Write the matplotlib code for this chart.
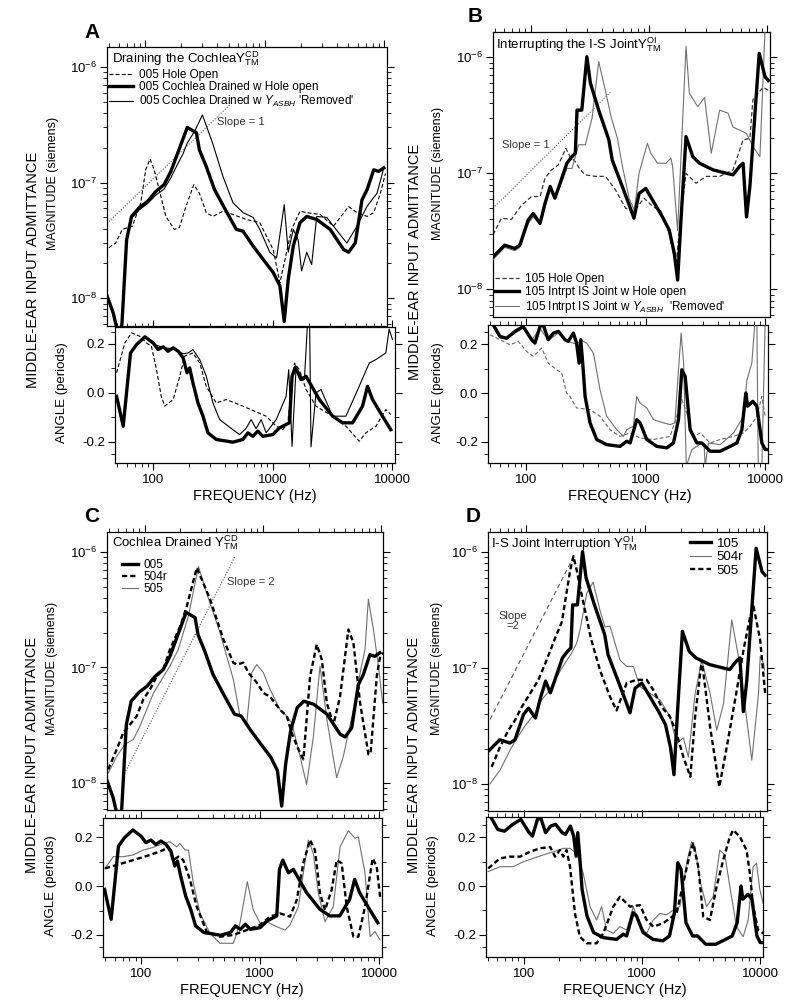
import matplotlib
matplotlib.use('Agg')
import matplotlib.pyplot as plt
from matplotlib.ticker import FixedLocator, NullFormatter, FuncFormatter

plt.rcParams['font.family'] = ['Liberation Sans', 'DejaVu Sans']
plt.rcParams['mathtext.fontset'] = 'custom'
plt.rcParams['mathtext.rm'] = 'Liberation Sans'
plt.rcParams['mathtext.it'] = 'Liberation Sans:italic'
plt.rcParams['mathtext.bf'] = 'Liberation Sans:bold'
plt.rcParams['axes.unicode_minus'] = False
plt.rcParams['axes.linewidth'] = 0.9

# ---- data: frequency (Hz), magnitude (siemens), angle (periods) ----
# ear 005, cochlea drained w hole open (panels A and C)
f005 = [48, 54, 58, 61, 64, 70, 77, 89, 105, 123, 144, 164, 187, 206, 225, 268, 284, 324, 380, 476,
        578, 658, 798, 968, 1175, 1337, 1453, 1570, 1730, 1968, 2240, 2717, 3515, 4550, 5015, 5700,
        6490, 7160, 8130, 8960, 9870]
y005 = [1.05e-8, 7.5e-9, 5.5e-9, 4.5e-9, 6e-9, 3.2e-8, 5.1e-8, 6.05e-8, 6.9e-8, 8.4e-8, 9.6e-8, 1.25e-7,
        1.8e-7, 2.35e-7, 3.0e-7, 2.7e-7, 1.92e-7, 1.38e-7, 8.7e-8, 5.66e-8, 3.94e-8, 3.8e-8, 2.83e-8,
        2.17e-8, 1.67e-8, 1.28e-8, 6.3e-9, 1.46e-8, 2.83e-8, 4.5e-8, 5.1e-8, 4.8e-8, 3.94e-8, 2.64e-8,
        2.5e-8, 3.0e-8, 7.1e-8, 8.7e-8, 1.29e-7, 1.25e-7, 1.34e-7]
fa005 = [49.5, 56.2, 64.7, 72.6, 85.3, 100, 110, 121, 133, 147, 162, 178, 192, 202, 215, 237, 261, 287,
         337, 464, 562, 619, 681, 750, 825, 1000, 1136, 1376, 1449, 1545, 1722, 1896, 2447, 3162, 3831,
         4642, 5623, 6190, 6813, 8254, 9678]
a005 = [-0.014, -0.136, 0.163, 0.197, 0.229, 0.204, 0.177, 0.188, 0.17, 0.184, 0.17, 0.143, 0.082, 0.102,
        0.041, -0.041, -0.095, -0.163, -0.19, -0.201, -0.19, -0.163, -0.177, -0.156, -0.177, -0.17,
        -0.143, -0.122, 0.068, 0.106, 0.054, 0.068, -0.027, -0.095, -0.122, -0.122, -0.054, 0.027,
        -0.027, -0.095, -0.15]

# ear 005, hole open
fho005 = [49.8, 56.7, 64.4, 78.2, 92, 101, 110, 119, 131, 149, 175, 193, 220, 255, 284, 324, 368, 447,
          542, 702, 908, 1033, 1175, 1337, 1520, 1675, 1968, 2240, 2900, 3750, 5015, 5890, 7160, 8130,
          9250, 10190]
yho005 = [2.74e-8, 3.0e-8, 3.94e-8, 4.2e-8, 6.7e-8, 1.29e-7, 1.6e-7, 1.29e-7, 8.7e-8, 5.1e-8, 3.94e-8,
          4.07e-8, 6.25e-8, 9.6e-8, 8.1e-8, 5.5e-8, 5.1e-8, 5.66e-8, 5.3e-8, 4.8e-8, 4.5e-8, 3.44e-8,
          2.64e-8, 1.36e-8, 2.5e-8, 3.94e-8, 5.66e-8, 5.5e-8, 5.3e-8, 4.2e-8, 6.2e-8, 5.5e-8, 5.1e-8,
          5.5e-8, 8.1e-8, 1.2e-7]
faho005 = [49.5, 58, 66, 77.4, 88, 96.8, 106.6, 117, 125, 147, 167, 183, 215, 245, 278, 337, 408, 562,
           880, 1067, 1212, 1334, 1517, 1668, 1896, 2297, 3162, 4084, 5272, 5995, 7262, 8800, 9678]
aho005 = [0.082, 0.204, 0.245, 0.231, 0.204, 0.19, 0.095, -0.014, -0.054, -0.027, 0.068, 0.15, 0.163,
          0.122, 0.027, -0.041, -0.027, -0.054, -0.095, -0.136, -0.15, -0.122, 0.122, 0.095, 0.014,
          -0.054, -0.095, -0.136, -0.197, -0.163, -0.136, -0.068, -0.088]

# ear 005, cochlea drained w Y_ASBH removed
frm005 = [48, 54, 58, 61, 64, 70, 77, 89, 105, 123, 144, 164, 187, 206, 225, 260, 301, 366, 447, 542,
          658, 798, 908, 1100, 1254, 1453, 1570, 1730, 1900, 2030, 2240, 2465, 2717, 3296, 3750, 4850,
          5890, 7160, 8670, 9870]
yrm005 = [1.05e-8, 7.5e-9, 5.5e-9, 4.5e-9, 6e-9, 3.0e-8, 4.9e-8, 5.8e-8, 6.6e-8, 7.8e-8, 8.8e-8, 1.1e-7,
          1.45e-7, 1.75e-7, 2.2e-7, 2.8e-7, 3.85e-7, 2.2e-7, 1.13e-7, 6.7e-8, 5.5e-8, 5.0e-8, 3.94e-8,
          2.5e-8, 2.23e-8, 6.45e-8, 2.5e-8, 3.94e-8, 3.2e-8, 1.72e-8, 2.5e-8, 1.96e-8, 5.1e-8, 5.0e-8,
          4.2e-8, 3.0e-8, 4.2e-8, 6.25e-8, 8.1e-8, 1.34e-7]
farm005 = [49.5, 56.2, 64.7, 72.6, 85.3, 100, 121, 147, 178, 196, 215, 245, 278, 316, 360, 464, 527, 595,
           659, 724, 800, 880, 1067, 1292, 1359, 1449, 1562, 1837, 1958, 2030, 2085, 2297, 2527, 3162,
           4084, 5272, 6400, 7262, 8800, 9380, 10000]
arm005 = [-0.014, -0.13, 0.16, 0.195, 0.225, 0.2, 0.185, 0.18, 0.16, 0.163, 0.177, 0.136, 0.068, -0.041,
          -0.109, -0.15, -0.17, -0.146, -0.109, -0.146, -0.109, -0.163, -0.109, -0.014, 0.095, -0.218,
          0.095, 0.054, 0.3, 0.3, -0.22, 0.0, 0.014, -0.095, -0.095, 0.027, 0.122, 0.136, 0.163, 0.26,
          0.218]

# ear 105, I-S joint interrupted w hole open (panels B and D)
f105 = [48, 60.2, 73.3, 80.9, 95.2, 105, 120, 132, 146, 160, 177, 202, 223, 238, 246, 270, 298, 319, 375,
        457, 488, 593, 654, 745, 822, 937, 1067, 1297, 1479, 1632, 1742, 1860, 2050, 2339, 2665, 3460,
        4490, 5115, 5830, 6220, 6650, 7100, 8510, 9530, 10150]
y105 = [1.9e-8, 2.4e-8, 2.25e-8, 2.4e-8, 3.96e-8, 4.5e-8, 3.7e-8, 5.5e-8, 7.7e-8, 6.1e-8, 8.2e-8, 1.22e-7,
        1.39e-7, 1.49e-7, 3.5e-7, 3.5e-7, 1.01e-6, 6e-7, 3.5e-7, 1.94e-7, 1.3e-7, 7.7e-8, 5.9e-8, 4.1e-8,
        6.7e-8, 7.4e-8, 5.9e-8, 4.2e-8, 3.24e-8, 2.04e-8, 1.2e-8, 4e-8, 2.07e-7, 1.39e-7, 1.22e-7,
        1.07e-7, 1.0e-7, 9.7e-8, 1.15e-7, 1.22e-7, 4.2e-8, 7.7e-8, 1.08e-6, 6.8e-7, 6.3e-7]
fa105 = [53.1, 60.4, 68.7, 80.7, 94.6, 111, 118.5, 130.6, 139, 153, 169, 186, 211, 225, 248, 264, 277,
         286, 297, 311, 342, 389, 471, 609, 693, 740, 840, 896, 1019, 1236, 1497, 1703, 1875, 2000, 2133,
         2347, 2670, 2940, 3450, 4180, 5070, 5770, 6350, 6850, 7090, 7840, 8470, 9330, 9950, 10270]
a105 = [0.279, 0.231, 0.224, 0.252, 0.272, 0.218, 0.204, 0.272, 0.279, 0.218, 0.245, 0.252, 0.218, 0.211,
        0.245, 0.204, 0.122, 0.218, 0.122, -0.014, -0.122, -0.19, -0.211, -0.218, -0.197, -0.204,
        -0.109, -0.122, -0.19, -0.218, -0.224, -0.204, -0.109, 0.095, 0.068, -0.15, -0.204, -0.204,
        -0.238, -0.238, -0.218, -0.204, -0.15, 0.0, -0.054, -0.034, -0.054, -0.204, -0.231, -0.231]

# ear 105, hole open
fho105 = [48, 56.5, 68.7, 83.5, 101.6, 120, 132, 150, 171, 198, 215, 238, 262, 289, 352, 428, 520, 632,
          745, 906, 1067, 1260, 1479, 1690, 1800, 2050, 2495, 3030, 3945, 5115, 6220, 7100, 7530, 9160,
          10150]
yho105 = [2.94e-8, 4.1e-8, 4.0e-8, 5.3e-8, 6.3e-8, 6.3e-8, 9.1e-8, 1.07e-7, 1.18e-7, 1.64e-7, 1.39e-7,
          1.26e-7, 1.07e-7, 9.7e-8, 9.4e-8, 9.4e-8, 7.2e-8, 5.0e-8, 4.7e-8, 6.1e-8, 5.2e-8, 4.7e-8,
          3.04e-8, 1.57e-8, 3.25e-8, 1.0e-7, 8.2e-8, 9.4e-8, 9.4e-8, 1.07e-7, 1.94e-7, 2.0e-7, 4.3e-7,
          5.5e-7, 5.2e-7]
faho105 = [49.9, 60.4, 73.3, 86, 101, 115, 135, 153, 180, 198, 218, 232, 264, 342, 414, 502, 609, 740,
           896, 1160, 1596, 1815, 2000, 2203, 2500, 2845, 3450, 4180, 5410, 6560, 7450, 8470, 9330, 9950]
aho105 = [0.238, 0.218, 0.197, 0.211, 0.17, 0.15, 0.184, 0.122, 0.095, 0.082, 0.0, -0.014, -0.061,
          -0.068, -0.095, -0.15, -0.177, -0.163, -0.184, -0.19, -0.177, -0.095, -0.027, -0.082, -0.177,
          -0.163, -0.204, -0.19, -0.177, -0.163, -0.136, -0.095, -0.014, -0.095]

# ear 105, I-S joint interrupted w Y_ASBH removed
frm105 = [48, 60.2, 73.3, 80.9, 95.2, 105, 120, 132, 146, 160, 177, 202, 223, 254, 289, 330, 375, 430,
          480, 540, 600, 680, 750, 822, 968, 1033, 1177, 1387, 1528, 1580, 1742, 2050, 2188, 2577, 2940,
          3350, 3945, 4640, 5115, 5830, 6650, 7530, 8630, 9530, 10150]
yrm105 = [1.8e-8, 2.3e-8, 2.15e-8, 2.3e-8, 3.7e-8, 4.2e-8, 3.6e-8, 5.2e-8, 7.2e-8, 6.0e-8, 7.8e-8, 1.1e-7,
          1.1e-7, 1.76e-7, 1.76e-7, 3.0e-7, 9.2e-7, 5.0e-7, 3.0e-7, 2.0e-7, 1.1e-7, 6.0e-8, 4.8e-8,
          1.0e-7, 1.81e-7, 1.49e-7, 1.22e-7, 1.22e-7, 1.35e-7, 1.14e-7, 3.2e-8, 1.24e-6, 4.9e-7, 3.75e-7,
          4.5e-7, 1.49e-7, 3.5e-7, 3.3e-7, 2.5e-7, 2.35e-7, 2.2e-7, 1.7e-7, 1.39e-7, 1.7e-6, 1.7e-6]
farm105 = [53.1, 60.4, 68.7, 80.7, 94.6, 111, 130.6, 153, 186, 225, 264, 290, 320, 365, 414, 471, 571,
           650, 693, 787, 840, 896, 1019, 1160, 1405, 1596, 1750, 1875, 1975, 2070, 2180, 2275, 2430,
           2670, 2940, 3080, 3130, 3340, 4180, 5410, 6560, 7000, 7690, 8200, 8470, 8700, 9330, 9950]
arm105 = [0.27, 0.225, 0.22, 0.245, 0.265, 0.215, 0.265, 0.215, 0.245, 0.21, 0.2, 0.215, 0.204, 0.163,
          0.014, -0.095, -0.15, -0.177, -0.15, -0.136, -0.014, -0.041, -0.061, -0.109, -0.122, -0.129,
          -0.122, 0.095, 0.245, 0.122, -0.3, -0.272, -0.231, -0.218, -0.204, -0.22, -0.3, -0.204,
          -0.211, -0.163, -0.095, 0.054, 0.122, 0.3, 0.3, -0.3, -0.3, 0.3]

# panel C, cochlea drained: ears 504r and 505
f504c = [49.2, 58, 65.9, 75.1, 85.7, 97.5, 111, 127, 144, 164, 203, 228, 277, 359, 466, 565, 604, 688,
         758, 893, 1017, 1158, 1407, 1603, 1770, 2015, 2220, 2530, 2880, 3180, 3510, 3990, 4540, 5340,
         5890, 6720, 7900, 8240, 9300, 9930, 10600]
y504c = [1.31e-8, 1.95e-8, 2.72e-8, 3.2e-8, 3.79e-8, 5.3e-8, 6.45e-8, 8.4e-8, 9.6e-8, 1.43e-7, 2.35e-7,
         3.4e-7, 7.3e-7, 3.9e-7, 1.75e-7, 1.1e-7, 1.06e-7, 1.1e-7, 9e-8, 7.4e-8, 6.0e-8, 5.6e-8, 4.3e-8,
         3.8e-8, 2.7e-8, 1.95e-8, 1.6e-8, 8.4e-8, 1.58e-7, 1.17e-7, 4.9e-8, 3.2e-8, 5.6e-8, 2.13e-7,
         1.64e-7, 4.9e-8, 1.77e-8, 1.8e-8, 8.4e-8, 1.25e-7, 1.34e-7]
fa504c = [49.9, 62.4, 86.1, 119, 154, 169, 187, 206, 226, 258, 293, 355, 460, 595, 769, 996, 1208, 1466,
          1777, 2024, 2297, 2613, 2877, 3170, 3493, 3970, 4380, 4820, 5310, 6040, 6650, 7570, 8770, 9480,
          10120]
a504c = [0.072, 0.086, 0.106, 0.127, 0.147, 0.16, 0.106, 0.12, 0.106, 0.024, -0.084, -0.186, -0.207,
         -0.2, -0.18, -0.159, -0.125, -0.112, -0.125, -0.057, 0.093, 0.188, 0.147, -0.03, -0.098, -0.016,
         0.106, 0.093, -0.084, -0.207, -0.207, -0.084, 0.113, 0.079, -0.044]
f505c = [49.2, 58, 68.2, 80.2, 91.4, 104, 119, 140, 164, 193, 213, 235, 286, 336, 436, 565, 644, 735, 810,
         893, 1017, 1158, 1407, 1603, 1770, 2015, 2365, 2700, 3070, 3510, 4250, 4840, 5890, 6720, 7390,
         7890, 8710, 9600, 10450]
y505c = [1.22e-8, 1.7e-8, 2.16e-8, 2.38e-8, 3.1e-8, 4.3e-8, 6.0e-8, 7.9e-8, 1.03e-7, 1.43e-7, 2.0e-7,
         2.78e-7, 7.5e-7, 4.4e-7, 2.0e-7, 7.9e-8, 3.8e-8, 3.3e-8, 9e-8, 1.06e-7, 9.0e-8, 6.45e-8, 4.3e-8,
         3.8e-8, 3.3e-8, 1.95e-8, 9.7e-9, 2.54e-8, 1.03e-7, 3.55e-8, 1.11e-8, 1.7e-8, 4.3e-8, 9.0e-8,
         1.43e-7, 3.9e-7, 2.13e-7, 1.03e-7, 4.9e-8]
fa505c = [49.9, 58.5, 71, 86.1, 104, 127, 154, 175, 199, 212, 234, 250, 275, 313, 379, 460, 595, 676, 779,
          875, 996, 1133, 1374, 1613, 1777, 2090, 2297, 2532, 2787, 3073, 3493, 4100, 4670, 5480, 6240,
          6650, 7570, 8340, 9180, 10120]
a505c = [0.072, 0.12, 0.12, 0.127, 0.147, 0.158, 0.174, 0.181, 0.16, 0.174, 0.147, 0.147, 0.011, -0.112,
         -0.193, -0.234, -0.234, -0.152, 0.018, -0.098, -0.152, -0.146, -0.166, -0.18, -0.159, -0.084,
         0.052, 0.188, 0.133, -0.03, -0.146, -0.084, 0.16, 0.226, 0.195, 0.201, 0.052, -0.207, -0.186,
         -0.22]

# panel D, I-S joint interruption: ears 504r and 505
f504d = [49.9, 60.5, 73.4, 83.5, 101, 119, 135, 159, 181, 212, 241, 266, 284, 323, 365, 417, 459, 506,
         614, 698, 794, 903, 1330, 1613, 1836, 2090, 2300, 2620, 2980, 3500, 3980, 4530, 5320, 6050,
         6890, 7830, 8910, 9200, 9820, 10000]
y504d = [1.0e-8, 1.31e-8, 1.95e-8, 2.46e-8, 3.3e-8, 4.05e-8, 5.3e-8, 6.45e-8, 8.4e-8, 1.1e-7, 1.34e-7,
         1.64e-7, 2.13e-7, 4.4e-7, 5.5e-7, 3.15e-7, 2.26e-7, 2.3e-7, 1.17e-7, 1.03e-7, 1.03e-7, 6.9e-8,
         5.3e-8, 3.8e-8, 2.23e-8, 2.5e-8, 1.7e-8, 6e-8, 1.17e-7, 6e-8, 2.9e-8, 4.9e-8, 2.6e-7, 1.25e-7,
         4.6e-8, 1.6e-8, 6e-8, 1.25e-7, 1.1e-7, 9.6e-8]
fa504d = [50.1, 63, 81.6, 99, 120, 146, 178, 216, 246, 280, 318, 363, 413, 455, 501, 571, 650, 740, 843,
          960, 1092, 1242, 1413, 1610, 1832, 2085, 2376, 2618, 2793, 3078, 3500, 3980, 4535, 5000, 5510,
          6270, 7140, 7870, 8670, 9250, 9880, 10540]
a504d = [0.059, 0.079, 0.079, 0.099, 0.113, 0.127, 0.14, 0.154, 0.154, 0.133, 0.052, -0.084, -0.139,
         -0.084, -0.18, -0.193, -0.166, -0.18, -0.084, -0.166, -0.193, -0.139, -0.112, -0.118, -0.098,
         -0.084, 0.093, 0.181, 0.161, 0.024, -0.084, -0.044, 0.147, 0.127, -0.003, -0.166, -0.207,
         -0.139, 0.079, 0.093, -0.016, -0.071]
f505d = [51.5, 60.5, 71.1, 81, 92, 108, 127, 149, 175, 200, 215, 235, 250, 266, 290, 320, 350, 417, 506,
         575, 698, 847, 1028, 1170, 1374, 1613, 1836, 2090, 2390, 2620, 2980, 3500, 4180, 4830, 5860,
         6670, 7590, 8090, 9200, 10140]
y505d = [1.4e-8, 2.08e-8, 2.9e-8, 3.55e-8, 4.6e-8, 6e-8, 7.9e-8, 1.17e-7, 1.8e-7, 2.5e-7, 4e-7, 7e-7,
         9.2e-7, 7e-7, 4.5e-7, 2.8e-7, 1.8e-7, 9.6e-8, 5.65e-8, 4.3e-8, 7.4e-8, 7.9e-8, 7.9e-8, 6.45e-8,
         4.6e-8, 3.8e-8, 2.7e-8, 1.7e-8, 1.15e-8, 3.8e-8, 1.17e-7, 3.1e-8, 9.4e-9, 2.08e-8, 6.45e-8,
         1.43e-7, 2.78e-7, 3.4e-7, 1.75e-7, 6e-8]
fa505d = [50.1, 63, 76.5, 93, 113, 137, 167, 184, 202, 216, 230, 246, 271, 298, 340, 413, 470, 571, 650,
          789, 960, 1092, 1242, 1507, 1955, 2225, 2534, 2704, 2980, 3283, 3740, 4256, 4840, 5510, 5880,
          6700, 7620, 8130, 8670, 9550, 10540]
a505d = [0.072, 0.113, 0.12, 0.12, 0.14, 0.154, 0.16, 0.12, 0.147, 0.12, 0.147, 0.079, -0.112, -0.207,
         -0.234, -0.234, -0.193, -0.084, -0.044, -0.084, -0.078, -0.139, -0.166, -0.152, -0.112, 0.011,
         0.133, 0.174, 0.079, -0.125, -0.139, -0.003, 0.106, 0.201, 0.229, 0.201, 0.147, 0.052, -0.084,
         -0.18, -0.193]

# reference slope lines (end points)
slopeA_f, slopeA_y = [49.8, 508], [4.6e-8, 4.7e-7]
slopeB_f, slopeB_y = [48, 472], [5.0e-8, 5.0e-7]
slopeC_f, slopeC_y = [65.9, 585], [1.15e-8, 9.2e-7]
slopeD_f, slopeD_y = [50, 255], [3.6e-8, 9.4e-7]

# ---- layout helpers ----
W, H = 800, 1005
fig = plt.figure(figsize=(8, 10.05), dpi=100)
XLIM = (48, 10500)
GREY = '#707070'
THICK, THIN = 2.4, 0.8
DASH = (0, (3.5, 2))
BOLDDASH = (0, (2.2, 1.3))


def box(x0, y0, x1, y1):
    return fig.add_axes([x0 / W, 1 - y1 / H, (x1 - x0) / W, (y1 - y0) / H])


def mag_axes(x0, y0, x1, y1, ylim):
    ax = box(x0, y0, x1, y1)
    ax.set_xscale('log')
    ax.set_yscale('log')
    ax.set_xlim(*XLIM)
    ax.set_ylim(*ylim)
    ax.tick_params(which='both', direction='out', top=True, right=True, bottom=False,
                   labelbottom=False, labelsize=9.5, pad=2)
    ax.tick_params(which='major', length=5, width=0.8)
    ax.tick_params(which='minor', length=3, width=0.6)
    ax.yaxis.set_minor_formatter(NullFormatter())
    ax.xaxis.set_minor_formatter(NullFormatter())
    return ax


def ang_axes(x0, y0, x1, y1, ylim):
    ax = box(x0, y0, x1, y1)
    ax.set_xscale('log')
    ax.set_xlim(*XLIM)
    ax.set_ylim(*ylim)
    ax.set_yticks([-0.2, 0.0, 0.2])
    ax.set_yticklabels(['-0.2', '0.0', '0.2'])
    ax.yaxis.set_minor_locator(FixedLocator([-0.25, -0.1, 0.1, 0.25]))
    ax.xaxis.set_major_formatter(FuncFormatter(lambda v, p: '%d' % v))
    ax.xaxis.set_minor_formatter(NullFormatter())
    ax.tick_params(which='both', direction='out', top=True, right=True)
    ax.tick_params(which='major', length=5, width=0.8)
    ax.tick_params(which='minor', length=3, width=0.6)
    ax.tick_params(axis='y', labelsize=9.5, pad=2)
    ax.tick_params(axis='x', labelsize=9.5, pad=3)
    return ax


def ftext(x, y, s, **kw):
    fig.text(x / W, 1 - y / H, s, **kw)


def side_labels(x_big, y_big, x_mag, y_mag, x_ang, y_ang, x_freq, y_freq):
    ftext(x_big, y_big, 'MIDDLE-EAR INPUT ADMITTANCE', rotation=90, ha='center', va='center', fontsize=10.5)
    ftext(x_mag, y_mag, 'MAGNITUDE (siemens)', rotation=90, ha='center', va='center', fontsize=9)
    ftext(x_ang, y_ang, 'ANGLE (periods)', rotation=90, ha='center', va='center', fontsize=9.5)
    ftext(x_freq, y_freq, 'FREQUENCY (Hz)', ha='center', va='center', fontsize=10.5)


def note(x, y, s, **kw):
    fig.text(x / W, 1 - y / H, s, fontsize=8, color='#333333', va='center', **kw)


# ---- panel A ----
axA = mag_axes(107, 47, 387, 326, (5.75e-9, 1.49e-6))
axA.plot(slopeA_f, slopeA_y, color='#555555', lw=0.8, ls=(0, (1, 1.5)))
axA.plot(fho005, yho005, color='k', lw=THIN, ls=DASH, label='005 Hole Open')
axA.plot(f005, y005, color='k', lw=THICK, label='005 Cochlea Drained w Hole open', zorder=4)
axA.plot(frm005, yrm005, color='k', lw=THIN, label="005 Cochlea Drained w $Y_{ASBH}$ 'Removed'", zorder=3)
axA.text(0.018, 0.99, r'Draining the Cochlea$\mathrm{Y}^{\mathrm{CD}}_{\mathrm{TM}}$',
         transform=axA.transAxes, ha='left', va='top', fontsize=9.5)
axA.legend(loc='upper left', bbox_to_anchor=(0.0, 0.93), frameon=False, fontsize=8.5,
           handlelength=2.0, handletextpad=0.5, labelspacing=0.05, borderaxespad=0, borderpad=0.2)
note(217, 122, 'Slope = 1', ha='left')

axAa = ang_axes(115, 327, 395, 463, (-0.286, 0.269))
axAa.plot(faho005, aho005, color='k', lw=THIN, ls=DASH)
axAa.plot(farm005, arm005, color='k', lw=THIN, zorder=3)
axAa.plot(fa005, a005, color='k', lw=THICK, zorder=4)
side_labels(33, 270, 53, 183, 62, 393, 255, 496)
ftext(92, 33, 'A', fontsize=15, fontweight='bold', ha='center', va='center')

# ---- panel B ----
axB = mag_axes(493, 32, 770, 317, (5.77e-9, 1.65e-6))
axB.plot(slopeB_f, slopeB_y, color='#555555', lw=0.8, ls=(0, (1, 1.5)))
axB.plot(fho105, yho105, color='#333333', lw=THIN + 0.1, ls=DASH, label='105 Hole Open')
axB.plot(f105, y105, color='k', lw=THICK, label='105 Intrpt IS Joint w Hole open', zorder=4)
axB.plot(frm105, yrm105, color=GREY, lw=THIN, label="105 Intrpt IS Joint w $Y_{ASBH}$  'Removed'", zorder=3)
axB.text(0.012, 0.99, r'Interrupting the I-S Joint$\mathrm{Y}^{\mathrm{OI}}_{\mathrm{TM}}$',
         transform=axB.transAxes, ha='left', va='top', fontsize=9.5)
axB.legend(loc='lower left', bbox_to_anchor=(0.0, 0.0), frameon=False, fontsize=8.5,
           handlelength=2.0, handletextpad=0.5, labelspacing=0.05, borderaxespad=0, borderpad=0.2)
note(502, 145, 'Slope = 1', ha='left')

axBa = ang_axes(488, 325, 768, 463, (-0.286, 0.278))
axBa.plot(faho105, aho105, color='#666666', lw=THIN, ls=DASH)
axBa.plot(farm105, arm105, color=GREY, lw=THIN, zorder=3)
axBa.plot(fa105, a105, color='k', lw=THICK, zorder=4)
side_labels(415, 262, 438, 173, 438, 393, 630, 496)
ftext(475, 17, 'B', fontsize=15, fontweight='bold', ha='center', va='center')

# ---- panel C ----
axC = mag_axes(107, 532, 383, 810, (5.83e-9, 1.49e-6))
axC.plot(slopeC_f, slopeC_y, color='#555555', lw=0.8, ls=(0, (1, 1.5)))
axC.plot(f505c, y505c, color=GREY, lw=THIN, label='505', zorder=2)
axC.plot(f504c, y504c, color='k', lw=1.7, ls=BOLDDASH, label='504r', zorder=3)
axC.plot(f005, y005, color='k', lw=THICK, label='005', zorder=4)
axC.text(0.018, 0.995, r'Cochlea Drained $\mathrm{Y}^{\mathrm{CD}}_{\mathrm{TM}}$',
         transform=axC.transAxes, ha='left', va='top', fontsize=9.5)
hC, lC = axC.get_legend_handles_labels()
axC.legend([hC[2], hC[1], hC[0]], [lC[2], lC[1], lC[0]], loc='upper left',
           bbox_to_anchor=(0.045, 0.912), frameon=False, fontsize=8.5, handlelength=1.4,
           handletextpad=0.4, labelspacing=0.02, borderaxespad=0, borderpad=0.2)
note(227, 582, 'Slope = 2', ha='left')

axCa = ang_axes(103, 818, 382, 957, (-0.29, 0.278))
axCa.plot(fa505c, a505c, color=GREY, lw=THIN, zorder=2)
axCa.plot(fa504c, a504c, color='k', lw=1.7, ls=BOLDDASH, zorder=3)
axCa.plot(fa005, a005, color='k', lw=THICK, zorder=4)
side_labels(32, 755, 52, 668, 51, 886, 242, 990)
ftext(92, 517, 'C', fontsize=15, fontweight='bold', ha='center', va='center')

# ---- panel D ----
axD = mag_axes(488, 532, 767, 811, (5.83e-9, 1.49e-6))
axD.plot(slopeD_f, slopeD_y, color='#555555', lw=0.8, ls=(0, (4, 3)))
axD.plot(f504d, y504d, color=GREY, lw=THIN, label='504r', zorder=2)
axD.plot(f505d, y505d, color='k', lw=1.7, ls=BOLDDASH, label='505', zorder=3)
axD.plot(f105, y105, color='k', lw=THICK, label='105', zorder=4)
axD.text(0.012, 0.99, r'I-S Joint Interruption $\mathrm{Y}^{\mathrm{OI}}_{\mathrm{TM}}$',
         transform=axD.transAxes, ha='left', va='top', fontsize=9.5)
hD, lD = axD.get_legend_handles_labels()
axD.legend([hD[2], hD[0], hD[1]], [lD[2], lD[0], lD[1]], loc='upper left',
           bbox_to_anchor=(0.715, 0.99), frameon=False, fontsize=9.5, handlelength=1.6,
           handletextpad=0.4, labelspacing=0.1, borderaxespad=0, borderpad=0.2)
note(513, 621, 'Slope\n=2', ha='center', linespacing=1.0)

axDa = ang_axes(486, 817, 763, 957, (-0.29, 0.282))
axDa.plot(fa504d, a504d, color=GREY, lw=THIN, zorder=2)
axDa.plot(fa505d, a505d, color='k', lw=1.7, ls=BOLDDASH, zorder=3)
axDa.plot(fa105, a105, color='k', lw=THICK, zorder=4)
side_labels(414, 755, 437, 668, 433, 886, 625, 990)
ftext(473, 516, 'D', fontsize=15, fontweight='bold', ha='center', va='center')

fig.savefig('out.png', dpi=100)
